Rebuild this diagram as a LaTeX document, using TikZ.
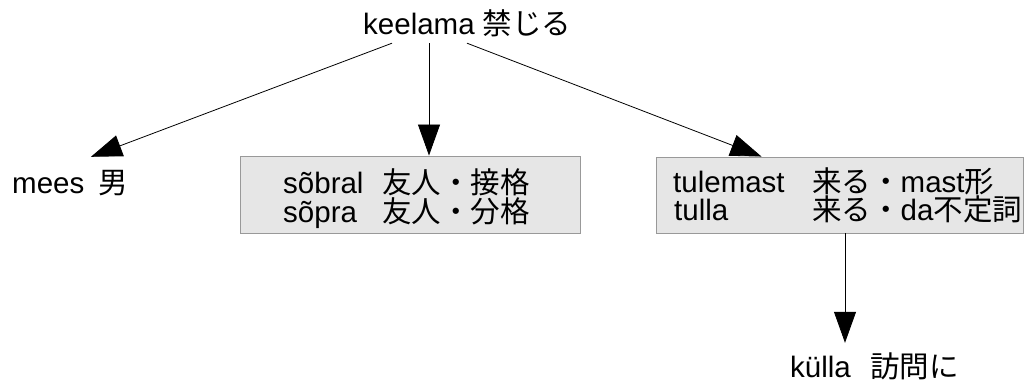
\documentclass[tikz,border=0pt]{standalone}
\usepackage{fontspec}
\setmainfont{Liberation Sans}
\newfontfamily\cjk{Noto Sans CJK JP}
\usetikzlibrary{arrows.meta}
\definecolor{boxfill}{HTML}{E6E6E6}
\definecolor{boxline}{HTML}{999999}
\begin{document}
\begin{tikzpicture}[x=1pt,y=-1pt,
  txt/.style={font=\fontsize{29.5}{31}\selectfont, inner xsep=0pt, inner ysep=0pt, text height=21pt, text depth=6pt, anchor=base west},
  gbox/.style={draw=boxline, fill=boxfill, line width=0.9pt, inner sep=0pt},
  arr/.style={line width=0.8pt, -{Triangle[length=31pt,width=22pt]}}]
\useasboundingbox (0,0) rectangle (1025,385);
% top word
\node[txt, inner ysep=2pt] (top) at (363,35) {keelama {\cjk 禁じる}};
% left leaf
\node[txt, inner ysep=15pt] (mees) at (12,193) {\makebox[86pt][l]{mees}{\cjk 男}};
% boxes
\node[gbox, minimum width=340pt, minimum height=77pt] (box1) at (410,194.5) {};
\node[gbox, minimum width=367pt, minimum height=76pt] (box2) at (839.5,195) {};
\node[txt] (b1a) at (283,193) {\makebox[99pt][l]{sõbral}{\cjk 友人・接格}};
\node[txt] (b1b) at (283,222) {\makebox[99pt][l]{sõpra}{\cjk 友人・分格}};
\node[txt] (b2a) at (673,192) {\makebox[139pt][l]{tulemast}{\cjk 来る・}mast{\cjk 形}};
\node[txt] (b2b) at (674,220) {\makebox[138pt][l]{tulla}{\cjk 来る・}da{\cjk 不定詞}};
% bottom leaf
\node[txt, inner ysep=13pt] (kulla) at (790,377) {\makebox[80pt][l]{külla}{\cjk 訪問に}};
% connectors
\draw[arr] ([xshift=29pt]top.south west) -- ([xshift=21pt]mees.north);
\draw[arr] ([xshift=66pt]top.south west) -- ([xshift=19pt]box1.north);
\draw[arr] ([xshift=104pt]top.south west) -- ([xshift=-78pt]box2.north);
\draw[arr] ([xshift=5.5pt]box2.south) -- ([xshift=5.5pt]box2.south |- kulla.north);
\end{tikzpicture}
\end{document}
